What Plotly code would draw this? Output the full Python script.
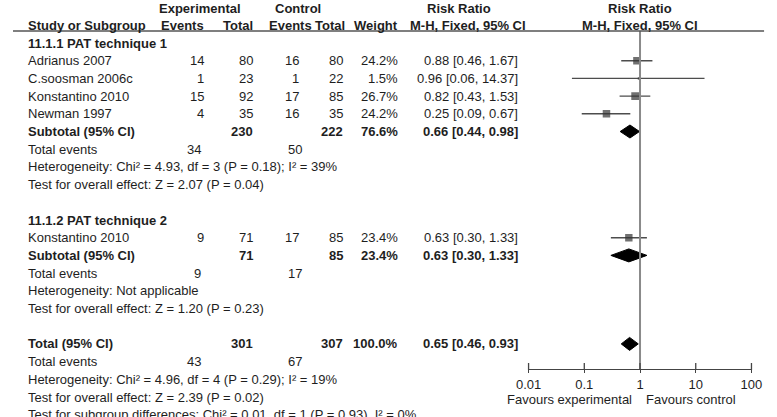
import plotly.graph_objects as go
import math

# ---------------- data ----------------
studies_g1 = ["Adrianus 2007", "C.soosman 2006c", "Konstantino 2010", "Newman 1997"]
exp_events_g1 = [14, 1, 15, 4]
exp_total_g1 = [80, 23, 92, 35]
ctl_events_g1 = [16, 1, 17, 16]
ctl_total_g1 = [80, 22, 85, 35]
weight_g1 = [24.2, 1.5, 26.7, 24.2]
rr_g1 = [0.88, 0.96, 0.82, 0.25]
lo_g1 = [0.46, 0.06, 0.43, 0.09]
hi_g1 = [1.67, 14.37, 1.53, 0.67]

studies_g2 = ["Konstantino 2010"]
exp_events_g2 = [9]
exp_total_g2 = [71]
ctl_events_g2 = [17]
ctl_total_g2 = [85]
weight_g2 = [23.4]
rr_g2 = [0.63]
lo_g2 = [0.30]
hi_g2 = [1.33]

# pooled: subtotal 1, subtotal 2, total
pooled_labels = ["Subtotal (95% CI)", "Subtotal (95% CI)", "Total (95% CI)"]
pooled_exp_total = [230, 71, 301]
pooled_ctl_total = [222, 85, 307]
pooled_weight = ["76.6%", "23.4%", "100.0%"]
pooled_rr = [0.66, 0.63, 0.65]
pooled_lo = [0.44, 0.30, 0.46]
pooled_hi = [0.98, 1.33, 0.93]
total_events_exp = [34, 9, 43]
total_events_ctl = [50, 17, 67]
heterogeneity = ["Heterogeneity: Chi² = 4.93, df = 3 (P = 0.18); I² = 39%",
                 "Heterogeneity: Not applicable",
                 "Heterogeneity: Chi² = 4.96, df = 4 (P = 0.29); I² = 19%"]
overall_effect = ["Test for overall effect: Z = 2.07 (P = 0.04)",
                  "Test for overall effect: Z = 1.20 (P = 0.23)",
                  "Test for overall effect: Z = 2.39 (P = 0.02)"]
subgroup_test = "Test for subgroup differences: Chi² = 0.01, df = 1 (P = 0.93), I² = 0%"
group_titles = ["11.1.1 PAT technique 1", "11.1.2 PAT technique 2"]

tick_vals = [0.01, 0.1, 1, 10, 100]
tick_text = ["0.01", "0.1", "1", "10", "100"]

# ---------------- layout ----------------
W, H = 777, 417
FONT = "Liberation Sans, Arial, sans-serif"
TXT = "#1e1e1e"
FS = 13
ROW0, PITCH = 43, 17.7

def row_y(i):
    return ROW0 + PITCH * i

annotations = []

def txt(x, y, s, anchor="left", bold=False, size=FS):
    if bold:
        s = "<b>" + s + "</b>"
    annotations.append(dict(x=x / W, y=y, xref="paper", yref="y", text=s,
                            showarrow=False, xanchor=anchor, yanchor="middle",
                            font=dict(family=FONT, size=size, color=TXT)))

X_LEFT = 13
# right edges of columns (+2 for annotation padding)
X_EE, X_ET, X_CE, X_CT, X_W, X_CI = 199, 250, 297, 343, 399, 523

# headers
txt(193, 8, "Experimental", "center", True)
txt(294, 8, "Control", "center", True)
txt(460, 8, "Risk Ratio", "center", True)
txt(647, 8, "Risk Ratio", "center", True)
txt(X_LEFT, 25, "Study or Subgroup", "left", True)
txt(199, 25, "Events", "right", True)
txt(250, 25, "Total", "right", True)
txt(311, 25, "Events", "right", True)
txt(345, 25, "Total", "right", True)
txt(399, 25, "Weight", "right", True)
txt(470, 25, "M-H, Fixed, 95% CI", "center", True)
txt(647, 25, "M-H, Fixed, 95% CI", "center", True)

fig = go.Figure()

def study_rows(start, names, ee, et, ce, ct, w, rr, lo, hi):
    ys = []
    for k in range(len(names)):
        y = row_y(start + k)
        ys.append(y)
        txt(X_LEFT, y, names[k])
        txt(X_EE, y, str(ee[k]), "right")
        txt(X_ET, y, str(et[k]), "right")
        txt(X_CE, y, str(ce[k]), "right")
        txt(X_CT, y, str(ct[k]), "right")
        txt(X_W, y, f"{w[k]:.1f}%", "right")
        txt(X_CI, y, f"{rr[k]:.2f} [{lo[k]:.2f}, {hi[k]:.2f}]", "right")
        fig.add_trace(go.Scatter(x=[lo[k], hi[k]], y=[y, y], mode="lines",
                                 line=dict(color="#4d4d4d", width=1.4),
                                 hoverinfo="skip", showlegend=False))
    sizes = [max(2.5, 7.5 * math.sqrt(v / 24.2)) for v in w]
    fig.add_trace(go.Scatter(x=rr, y=ys, mode="markers",
                             marker=dict(symbol="square", size=sizes, color="#333333",
                                         line=dict(width=0)),
                             hoverinfo="skip", showlegend=False))

def pooled_row(idx, rowi):
    y = row_y(rowi)
    txt(X_LEFT, y, pooled_labels[idx], "left", True)
    txt(X_ET, y, str(pooled_exp_total[idx]), "right", True)
    txt(X_CT, y, str(pooled_ctl_total[idx]), "right", True)
    txt(X_W, y, pooled_weight[idx], "right", True)
    txt(X_CI, y, f"{pooled_rr[idx]:.2f} [{pooled_lo[idx]:.2f}, {pooled_hi[idx]:.2f}]", "right", True)
    h = 6.5
    fig.add_trace(go.Scatter(
        x=[pooled_lo[idx], pooled_rr[idx], pooled_hi[idx], pooled_rr[idx], pooled_lo[idx]],
        y=[y, y - h, y, y + h, y], mode="lines", fill="toself",
        fillcolor="#000000", line=dict(color="#000000", width=1),
        hoverinfo="skip", showlegend=False))
    txt(X_LEFT, row_y(rowi + 1), "Total events")
    txt(X_EE - 3, row_y(rowi + 1), str(total_events_exp[idx]), "right")
    txt(X_CE + 3, row_y(rowi + 1), str(total_events_ctl[idx]), "right")
    txt(X_LEFT, row_y(rowi + 2), heterogeneity[idx])
    txt(X_LEFT, row_y(rowi + 3), overall_effect[idx])

# group 1
txt(X_LEFT, row_y(0), group_titles[0], "left", True)
study_rows(1, studies_g1, exp_events_g1, exp_total_g1, ctl_events_g1, ctl_total_g1,
           weight_g1, rr_g1, lo_g1, hi_g1)
pooled_row(0, 5)

# group 2
txt(X_LEFT, row_y(10), group_titles[1], "left", True)
study_rows(11, studies_g2, exp_events_g2, exp_total_g2, ctl_events_g2, ctl_total_g2,
           weight_g2, rr_g2, lo_g2, hi_g2)
pooled_row(1, 12)

# overall
pooled_row(2, 17)
txt(X_LEFT, row_y(21), subgroup_test)

AXIS_Y = 369
# null line
fig.add_trace(go.Scatter(x=[1, 1], y=[31, AXIS_Y], mode="lines",
                         line=dict(color="#8a8a8a", width=2),
                         hoverinfo="skip", showlegend=False))
# upward tick parts
fig.add_trace(go.Scatter(x=tick_vals, y=[AXIS_Y - 2.5] * len(tick_vals), mode="markers",
                         marker=dict(symbol="line-ns", size=5,
                                     line=dict(color="#444444", width=1.3)),
                         hoverinfo="skip", showlegend=False, cliponaxis=False))

txt(641, 399, "Favours experimental", "right")
txt(651, 399, "Favours control", "left")

fig.update_layout(
    width=W, height=H,
    margin=dict(l=0, r=0, t=0, b=0),
    paper_bgcolor="white", plot_bgcolor="white",
    showlegend=False,
    annotations=annotations,
    xaxis=dict(type="log", range=[-2, 2], domain=[532 / W, 762 / W],
               anchor="free", position=(H - AXIS_Y) / H,
               showline=True, linecolor="#444444", linewidth=1.3,
               ticks="outside", ticklen=3, tickwidth=1.3, tickcolor="#444444",
               tickvals=tick_vals, ticktext=tick_text,
               tickfont=dict(family=FONT, size=FS, color=TXT),
               showgrid=False, zeroline=False, fixedrange=True),
    yaxis=dict(range=[H, 0], domain=[0, 1], visible=False, showgrid=False,
               zeroline=False, fixedrange=True),
    shapes=[dict(type="line", xref="paper", yref="y", x0=0, x1=775 / W, y0=31, y1=31,
                 line=dict(color="#555555", width=1.6))],
)

fig.write_html("out.html", config={"displayModeBar": False},
               post_script="document.body.style.margin='0';document.body.style.overflow='hidden';")
